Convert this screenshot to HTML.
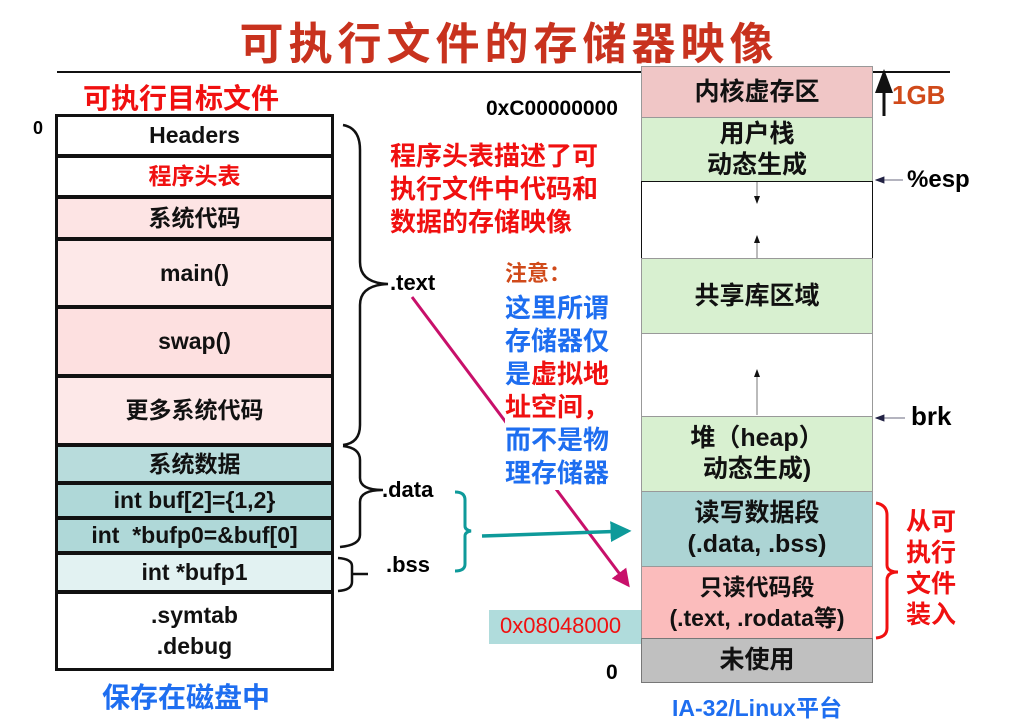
<!DOCTYPE html>
<html><head><meta charset="utf-8"><style>
body{margin:0;width:1018px;height:728px;background:#fff;position:relative;overflow:hidden;font-family:"Liberation Sans","Noto Sans CJK SC",sans-serif;font-weight:bold}
.a{position:absolute}
.b{position:absolute;box-sizing:border-box;display:flex;align-items:center;justify-content:center;text-align:center;font-size:23px;color:#111;line-height:31px}
.L{left:55px;width:279px;border:3px solid #111}
.R{left:641px;width:232px;border:1.5px solid #999;font-size:25px}
</style></head><body>
<div class="a" style="left:0;width:1018px;top:8px;text-align:center;font-size:44px;letter-spacing:5px;color:#c8321e;">可执行文件的存储器映像</div>
<div class="a" style="left:57px;top:71px;width:893px;height:2px;background:#111"></div>
<div class="a" style="left:83px;top:77px;font-size:28px;color:#f01010">可执行目标文件</div>
<div class="a" style="left:33px;top:118px;font-size:18px">0</div>

<div class="b L" style="top:114px;height:43px;background:#fff">Headers</div>
<div class="b L" style="top:155px;height:43px;background:#fff;color:#f01010">程序头表</div>
<div class="b L" style="top:196px;height:44px;background:#fde4e4">系统代码</div>
<div class="b L" style="top:238px;height:70px;background:#fde8e8">main()</div>
<div class="b L" style="top:306px;height:71px;background:#fde0e0">swap()</div>
<div class="b L" style="top:375px;height:71px;background:#fde8e8">更多系统代码</div>
<div class="b L" style="top:444px;height:40px;background:#b8dcdc">系统数据</div>
<div class="b L" style="top:482px;height:37px;background:#afd8d8">int buf[2]={1,2}</div>
<div class="b L" style="top:517px;height:37px;background:#afd8d8">int &nbsp;*bufp0=&amp;buf[0]</div>
<div class="b L" style="top:552px;height:41px;background:#e2f2f2">int *bufp1</div>
<div class="b L" style="top:591px;height:80px;background:#fff">.symtab<br>.debug</div>
<div class="a" style="left:102px;top:676px;font-size:28px;color:#1e6ef0">保存在磁盘中</div>

<div class="a" style="left:390px;top:270px;font-size:22px">.text</div>
<div class="a" style="left:382px;top:477px;font-size:22px">.data</div>
<div class="a" style="left:386px;top:552px;font-size:22px">.bss</div>
<div class="a" style="left:390px;top:140px;font-size:26px;color:#f01010;line-height:33px">程序头表描述了可<br>执行文件中代码和<br>数据的存储映像</div>
<div class="a" style="left:505px;top:256px;font-size:22px;color:#d04a1a">注意：</div>

<svg class="a" style="left:0;top:0" width="1018" height="728">
<defs>
<marker id="m" markerWidth="6" markerHeight="6" refX="5" refY="3" orient="auto"><path d="M0,0 L6,3 L0,6z" fill="#c8106a"/></marker>
</defs>
<line x1="412" y1="297" x2="628" y2="585" stroke="#c8106a" stroke-width="3" marker-end="url(#m)"/>
</svg>
<div class="a" style="left:505px;top:292px;width:112px;font-size:26px;line-height:33px;background:#fff"><span style="color:#1e6ef0">这里所谓<br>存储器仅<br>是</span><span style="color:#f01010">虚拟地<br>址空间，</span><br><span style="color:#1e6ef0">而不是物<br>理存储器</span></div>

<div class="a" style="left:486px;top:97px;font-size:21px">0xC00000000</div>
<div class="a" style="left:489px;top:610px;width:152px;height:34px;background:#b0dcdc"></div>
<div class="a" style="left:500px;top:613px;font-size:22px;color:#f01010;font-weight:normal">0x08048000</div>
<div class="a" style="left:606px;top:661px;font-size:21px">0</div>

<div class="b R" style="top:66px;height:52px;background:#f0c6c6">内核虚存区</div>
<div class="b R" style="top:117px;height:65px;background:#d8f0d0">用户栈<br>动态生成</div>
<div class="b R" style="top:181px;height:78px;background:#fff;border:1.5px solid #111"></div>
<div class="b R" style="top:258px;height:76px;background:#d8f0d0">共享库区域</div>
<div class="b R" style="top:333px;height:84px;background:#fff"></div>
<div class="b R" style="top:416px;height:76px;background:#d8f0d0">堆（heap）<br>动态生成)</div>
<div class="b R" style="top:491px;height:76px;background:#acd4d4">读写数据段<br>(.data, .bss)</div>
<div class="b R" style="top:566px;height:73px;background:#fbbcbc;font-size:23px">只读代码段<br>(.text, .rodata等)</div>
<div class="b R" style="top:638px;height:45px;background:#c0c0c0;border-color:#777">未使用</div>
<div class="a" style="left:672px;top:689px;font-size:23px;color:#1e6ef0">IA-32/Linux平台</div>

<div class="a" style="left:892px;top:80px;font-size:26px;color:#d04a1a">1GB</div>
<div class="a" style="left:907px;top:166px;font-size:24px">%esp</div>
<div class="a" style="left:911px;top:401px;font-size:26px">brk</div>
<div class="a" style="left:906px;top:507px;font-size:25px;color:#f01010;line-height:31px">从可<br>执行<br>文件<br>装入</div>

<svg class="a" style="left:0;top:0" width="1018" height="728">
<defs>
<marker id="k" markerWidth="8" markerHeight="8" refX="7" refY="4" orient="auto"><path d="M0,1 L8,4 L0,7z" fill="#111"/></marker>
<marker id="n" markerWidth="8" markerHeight="8" refX="7" refY="4" orient="auto"><path d="M0,1 L8,4 L0,7z" fill="#224"/></marker>
<marker id="t" markerWidth="6" markerHeight="6" refX="5" refY="3" orient="auto"><path d="M0,0 L6,3 L0,6z" fill="#0e9a9a"/></marker>
</defs>
<g fill="none" stroke="#111" stroke-width="2.5">
<path d="M343,125 Q360,128 360,150 L360,262 Q360,283 388,284 Q360,285 360,305 L360,425 Q360,443 343,445"/>
<path d="M343,446 Q360,448 360,460 L360,478 Q360,490 383,490 Q360,490 360,502 L360,535 Q360,545 340,547"/>
<path d="M338,558 Q352,559 352,566 L352,574 Q352,574 368,574 L352,574 L352,582 Q352,590 338,591"/>
</g>
<path d="M455,492 Q465,492 465,500 L465,526 Q465,530 471,531 Q465,532 465,536 L465,564 Q465,571 455,571" fill="none" stroke="#0e9a9a" stroke-width="3"/>
<line x1="482" y1="536" x2="628" y2="531" stroke="#0e9a9a" stroke-width="3.5" marker-end="url(#t)"/>
<path d="M876,503 Q887,505 887,515 L887,565 Q887,572 898,572 Q887,572 887,580 L887,628 Q887,637 876,638" fill="none" stroke="#f01010" stroke-width="3"/>
<line x1="884" y1="116" x2="884" y2="72" stroke="#111" stroke-width="3" marker-end="url(#k)"/>
<line x1="757" y1="182" x2="757" y2="203" stroke="#777" stroke-width="1" marker-end="url(#k)"/>
<line x1="757" y1="258" x2="757" y2="236" stroke="#777" stroke-width="1" marker-end="url(#k)"/>
<line x1="757" y1="415" x2="757" y2="370" stroke="#777" stroke-width="1" marker-end="url(#k)"/>
<line x1="903" y1="180" x2="876" y2="180" stroke="#889" stroke-width="1.2" marker-end="url(#n)"/>
<line x1="905" y1="418" x2="876" y2="418" stroke="#889" stroke-width="1.2" marker-end="url(#n)"/>
</svg>
</body></html>
